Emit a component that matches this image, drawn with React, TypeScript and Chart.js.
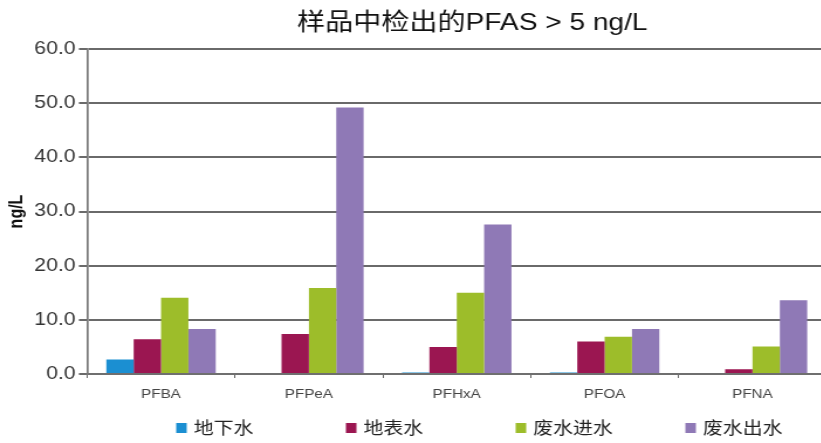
import React, { useEffect, useRef } from "react";
import { Chart, registerables } from "chart.js";

Chart.register(...registerables);

const categories = ["PFBA", "PFPeA", "PFHxA", "PFOA", "PFNA"];
const seriesNames = ["地下水", "地表水", "废水进水", "废水出水"];
const groundwater = [2.7, 0, 0.3, 0.3, 0];
const surfaceWater = [6.4, 7.4, 5.0, 6.0, 0.9];
const wastewaterIn = [14.1, 15.9, 15.0, 6.9, 5.1];
const wastewaterOut = [8.3, 49.2, 27.6, 8.3, 13.6];
const colors = ["#1b8fd2", "#9b1651", "#9dbd2a", "#8f79b6"];
const yTicks = [0, 10, 20, 30, 40, 50, 60];
const titleText = "样品中检出的PFAS > 5 ng/L";
const yTitle = "ng/L";

const FONT = "'Liberation Sans', 'Noto Sans CJK SC', Arial, sans-serif";
const STRETCH = 1.17;
const LOGICAL_W = 815;
const H = 443;

const titleLegendPlugin = {
  id: "titleLegend",
  afterDraw(chart: any) {
    const ctx = chart.ctx;
    const center = chart.width / 2;
    ctx.save();
    // title
    ctx.font = `24px ${FONT}`;
    ctx.fillStyle = "#111";
    ctx.textAlign = "center";
    ctx.textBaseline = "middle";
    ctx.fillText(titleText, center - 4, chart.chartArea.top - 26);
    // legend
    const y = chart.chartArea.bottom + 54;
    ctx.font = `17px ${FONT}`;
    ctx.textAlign = "left";
    chart.data.datasets.forEach((ds: any, i: number) => {
      const x = center - 257 + i * 145;
      ctx.fillStyle = ds.backgroundColor;
      ctx.fillRect(x, y - 5, 9, 10);
      ctx.fillStyle = "#222";
      ctx.fillText(ds.label, x + 15, y + 1);
    });
    ctx.restore();
  },
};

export default function App() {
  const ref = useRef<HTMLCanvasElement | null>(null);
  useEffect(() => {
    const canvas = ref.current!;
    const data = [groundwater, surfaceWater, wastewaterIn, wastewaterOut];
    const chart = new Chart(canvas, {
      type: "bar",
      data: {
        labels: categories,
        datasets: seriesNames.map((name, i) => ({
          label: name,
          data: data[i],
          backgroundColor: colors[i],
          borderWidth: 0,
          categoryPercentage: 0.74,
          barPercentage: 1.0,
        })),
      },
      options: {
        responsive: false,
        animation: false,
        devicePixelRatio: 1,
        layout: { padding: { left: 0, right: 109, top: 49, bottom: 42 } },
        plugins: {
          legend: { display: false },
          tooltip: { enabled: false },
          title: { display: false },
        },
        scales: {
          x: {
            afterFit: (s: any) => { s.height = 27; },
            grid: {
              display: true,
              drawOnChartArea: false,
              drawTicks: true,
              tickLength: 4,
              offset: true,
              color: "#666",
              lineWidth: 1,
            },
            border: { display: true, color: "#6f6f6f", width: 2 },
            ticks: {
              color: "#444",
              font: { family: FONT, size: 13 },
              padding: 9,
            },
          },
          y: {
            min: 0,
            max: 60,
            afterFit: (s: any) => { s.width = 74.4; },
            afterBuildTicks: (s: any) => { s.ticks = yTicks.map((v) => ({ value: v })); },
            grid: {
              color: "#6a6a6a",
              lineWidth: 2,
              tickLength: 7,
            },
            border: { display: true, color: "#777", width: 1.7 },
            ticks: {
              color: "#333",
              font: { family: FONT, size: 18 },
              padding: 3,
              callback: (v: any) => Number(v).toFixed(1),
            },
            title: {
              display: true,
              text: yTitle,
              color: "#111",
              font: { family: FONT, size: 16, weight: "bold" },
              padding: { top: 5, bottom: 0 },
            },
          },
        },
      },
      plugins: [titleLegendPlugin],
    });
    canvas.style.width = `${Math.round(LOGICAL_W * STRETCH)}px`;
    canvas.style.height = `${H}px`;
    return () => chart.destroy();
  }, []);

  return (
    <div style={{ position: "absolute", left: 0, top: 0, width: 821, height: H, overflow: "hidden", background: "#fff" }}>
      <canvas ref={ref} width={LOGICAL_W} height={H} style={{ display: "block" }} />
    </div>
  );
}
